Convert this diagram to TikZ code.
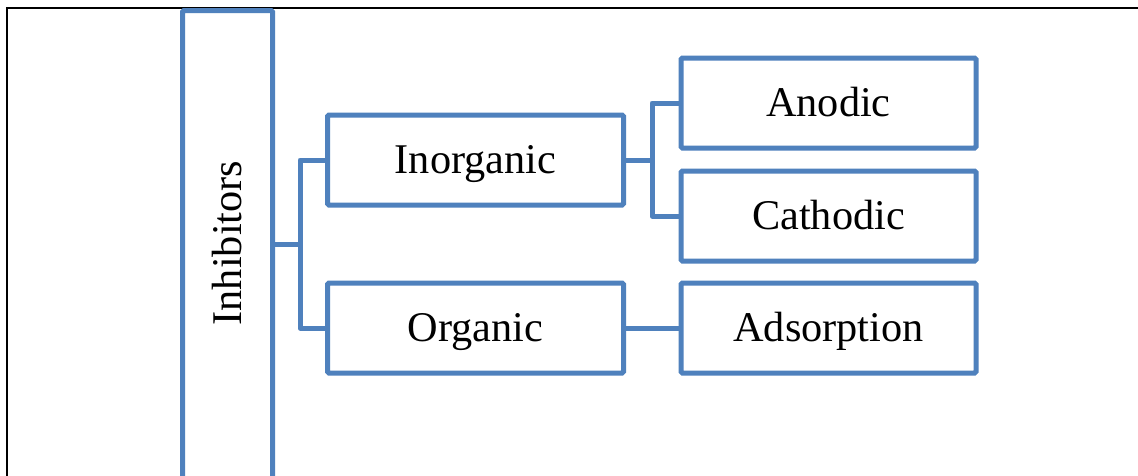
\documentclass[tikz,border=0pt]{standalone}
\usepackage{fontspec}
\setmainfont{Liberation Serif}
\definecolor{boxblue}{HTML}{4F81BD}
\begin{document}
\begin{tikzpicture}[x=1pt,y=-1pt,
  box/.style={draw=boxblue,line width=5pt,rounded corners=1.5pt,fill=white,inner sep=0pt,text height=27.8pt,text depth=0pt,font=\fontsize{42.3}{48}\selectfont},
  conn/.style={draw=boxblue,line width=5pt,line join=round}]
\useasboundingbox (0,0) rectangle (1138,475);
\fill[white] (0,0) rectangle (1138,475);
\draw[black,line width=2.2pt] (7,480) -- (7,8) -- (1145,8);
% Inhibitors (tall box, extends below picture)
\draw[box] (182.5,10.5) rectangle (272.5,490);
\node[font=\fontsize{42.3}{48}\selectfont,rotate=90,text height=27.8pt,text depth=0pt] (inh) at (227.5,243) {Inhibitors};
\coordinate (inhR) at (272.5,244);
\node[box,minimum width=296pt,minimum height=90pt] (inorg) at (475.5,160) {Inorganic};
\node[box,minimum width=296pt,minimum height=90pt] (org) at (475.5,328) {Organic};
\node[box,minimum width=295pt,minimum height=90pt] (anod) at (828.5,103) {Anodic};
\node[box,minimum width=295pt,minimum height=90pt] (cath) at (828.5,216) {Cathodic};
\node[box,minimum width=295pt,minimum height=90pt] (ads) at (828.5,328) {Adsorption};
\draw[conn] (inhR) -- (300,244);
\draw[conn] (inorg.west) -| (300,244) |- (org.west);
\draw[conn] (inorg.east) -- (652,160);
\draw[conn] (anod.west) -| (652,160) |- (cath.west);
\draw[conn] (org.east) -- (ads.west);
\end{tikzpicture}
\end{document}
